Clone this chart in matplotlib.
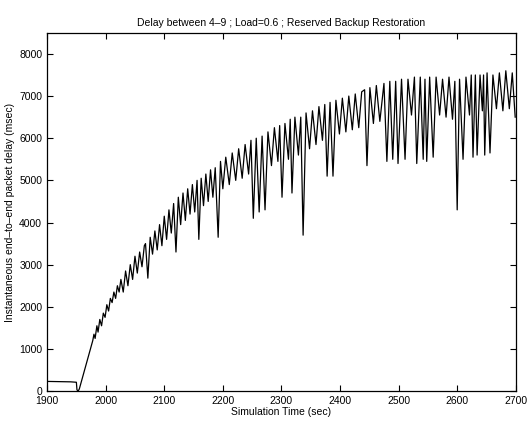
import matplotlib
matplotlib.use("Agg")
import matplotlib.pyplot as plt
import numpy as np

# valeurs (temps en s, delai en ms)
time_s = [1900, 1920, 1940, 1950, 1951, 1953, 1955, 1960, 1970, 1978, 1980, 1982,
          1985, 1987, 1990, 1993, 1996, 1999, 2002, 2005, 2008, 2011, 2014, 2017,
          2020, 2023, 2026, 2030,
          2034, 2038, 2042, 2046, 2050, 2054, 2058, 2062, 2066, 2068, 2072, 2076,
          2080, 2084, 2088, 2092, 2096, 2100, 2104, 2108, 2112, 2116, 2120, 2124,
          2128, 2132, 2136, 2140, 2144, 2148, 2152, 2156, 2159, 2163, 2167, 2171,
          2175, 2179, 2183, 2187, 2192, 2196, 2200,
          2205, 2211, 2216, 2222, 2227, 2233, 2238, 2244, 2248, 2252, 2257, 2262,
          2267, 2272, 2277, 2283, 2288, 2294, 2297, 2301, 2306, 2312, 2315, 2318,
          2323, 2329, 2333, 2337, 2342, 2348, 2353, 2359, 2364, 2370, 2374, 2378,
          2383, 2388, 2393, 2399, 2404, 2410, 2415, 2421, 2426, 2432, 2437, 2442,
          2446, 2451, 2457, 2462, 2468, 2475, 2480, 2485, 2490, 2495, 2499, 2505,
          2511, 2516, 2522, 2527, 2531, 2537, 2542, 2545, 2548, 2553, 2559, 2564,
          2570, 2575, 2581, 2586, 2592, 2596, 2600, 2604, 2610, 2615, 2621, 2624,
          2627, 2631, 2634, 2639, 2643, 2645, 2647, 2651, 2656, 2661, 2667, 2672,
          2678, 2683, 2689, 2694, 2699]
delay_ms = [230, 225, 220, 210, 30, 0, 50, 300, 800, 1200, 1350, 1250,
            1550, 1400, 1700, 1550, 1850, 1750, 2050, 1900, 2200, 2100, 2350, 2200,
            2500, 2350, 2650, 2350,
            2850, 2500, 3000, 2650, 3200, 2800, 3300, 2950, 3450, 3500, 2680, 3650,
            3250, 3800, 3350, 3950, 3450, 4150, 3600, 4300, 3750, 4450, 3300, 4600,
            3950, 4700, 4050, 4800, 4200, 4900, 4250, 5000, 3600, 5050, 4400, 5150,
            4500, 5250, 4600, 5300, 3650, 5450, 4800,
            5550, 4900, 5650, 5000, 5750, 5050, 5850, 5150, 5950, 4100, 6000, 4250,
            6050, 4300, 6150, 5350, 6250, 5450, 6300, 4600, 6350, 5500, 6450, 4700,
            6500, 5600, 6500, 3700, 6600, 5750, 6650, 5850, 6750, 5950, 6800, 5100,
            6850, 5100, 6900, 6100, 6950, 6150, 7000, 6200, 7050, 6250, 7100, 7150,
            5350, 7200, 6350, 7250, 6400, 7300, 5450, 7350, 5500, 7350, 5400, 7400,
            5500, 7400, 6550, 7450, 5400, 7450, 5500, 7400, 5450, 7450, 5550, 7450,
            6550, 7400, 6500, 7450, 6450, 7350, 4300, 7400, 5500, 7450, 6550, 7500,
            5550, 7500, 5600, 7500, 6650, 7500, 5600, 7550, 5650, 7500, 6700, 7550,
            6650, 7600, 6700, 7550, 6500]

plt.rcParams['font.family'] = ['Liberation Sans', 'DejaVu Sans']
plt.rcParams['font.size'] = 7.5

fig = plt.figure(figsize=(5.29, 4.21), dpi=100)
ax = fig.add_axes([0.089, 0.071, 0.886, 0.851])
ax.plot(time_s, delay_ms, color='black', linewidth=0.9)

ax.set_xlim(1900, 2700)
ax.set_ylim(0, 8500)
ax.set_xticks(np.arange(1900, 2701, 100))
ax.set_yticks(np.arange(0, 8001, 1000))
ax.tick_params(direction='in', top=True, right=True, length=4, width=0.8, labelsize=7.5)
for s in ax.spines.values():
    s.set_linewidth(0.9)

ax.set_title('Delay between 4\u20139 ; Load=0.6 ; Reserved Backup Restoration', fontsize=7.5, pad=5)
ax.set_xlabel('Simulation Time (sec)', fontsize=7.5, labelpad=1)
ax.set_ylabel('Instantaneous end\u2013to\u2013end packet delay (msec)', fontsize=7.5, labelpad=3)

fig.savefig('out.png', dpi=100)
